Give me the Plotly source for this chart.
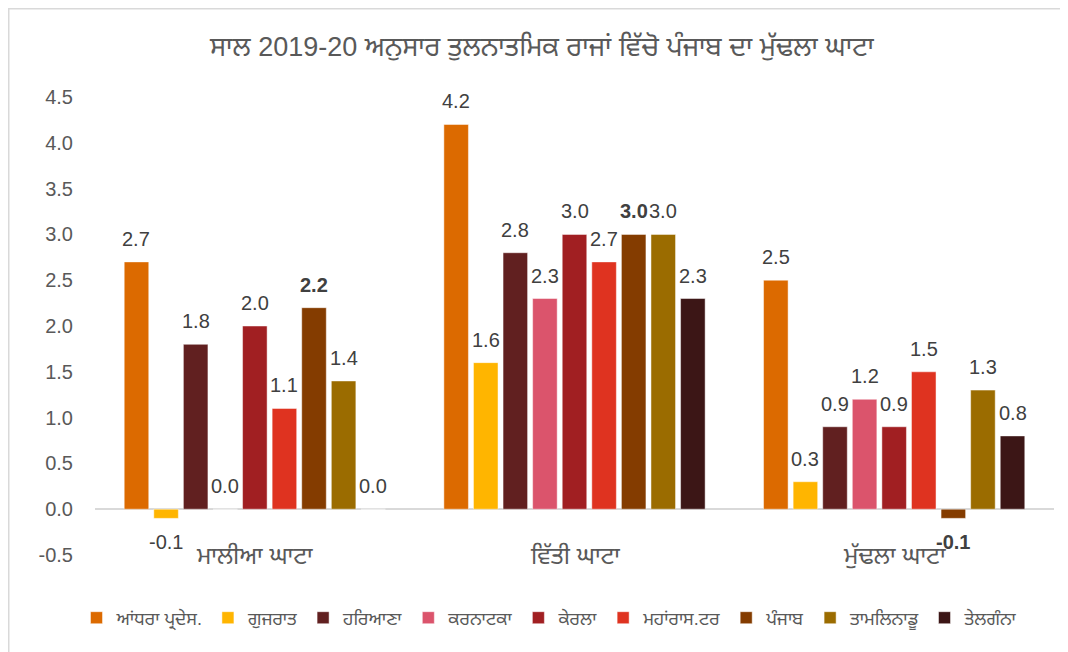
import plotly.graph_objects as go

categories = ["ਮਾਲੀਆ ਘਾਟਾ", "ਵਿੱਤੀ ਘਾਟਾ", "ਮੁੱਢਲਾ ਘਾਟਾ"]
states = ["ਆਂਧਰਾ ਪ੍ਰਦੇਸ.", "ਗੁਜਰਾਤ", "ਹਰਿਆਣਾ", "ਕਰਨਾਟਕਾ", "ਕੇਰਲਾ",
          "ਮਹਾਂਰਾਸ.ਟਰ", "ਪੰਜਾਬ", "ਤਾਮਲਿਨਾਡੂ", "ਤੇਲਗੰਨਾ"]
andhra = [2.7, 4.2, 2.5]
gujarat = [-0.1, 1.6, 0.3]
haryana = [1.8, 2.8, 0.9]
karnataka = [0.0, 2.3, 1.2]
kerala = [2.0, 3.0, 0.9]
maharashtra = [1.1, 2.7, 1.5]
punjab = [2.2, 3.0, -0.1]
tamilnadu = [1.4, 3.0, 1.3]
telangana = [0.0, 2.3, 0.8]
series = [andhra, gujarat, haryana, karnataka, kerala, maharashtra, punjab, tamilnadu, telangana]
colors = ["#DC6A00", "#FFB500", "#612020", "#DB546C", "#A11F22",
          "#DF3320", "#843C00", "#9B6C00", "#3C1616"]
title = "ਸਾਲ 2019-20 ਅਨੁਸਾਰ ਤੁਲਨਾਤਮਿਕ ਰਾਜਾਂ ਵਿੱਚੋ ਪੰਜਾਬ ਦਾ ਮੁੱਢਲਾ ਘਾਟਾ"
yticks = [-0.5, 0.0, 0.5, 1.0, 1.5, 2.0, 2.5, 3.0, 3.5, 4.0, 4.5]

FONT = "Liberation Sans, Arial, Noto Sans Gurmukhi, sans-serif"

W, H = 1060, 644
ml, mr, mt, mb = 87, 14, 89, 97
pw, ph = W - ml - mr, H - mt - mb
BARGAP = 0.167
BARGROUPGAP = 0.17


def px_x(p):
    return (p - ml) / pw


def px_y(p):
    return (H - mb - p) / ph


fig = go.Figure()
for name, vals, col in zip(states, series, colors):
    fig.add_trace(go.Bar(
        x=categories, y=vals, name=name,
        marker=dict(color=col, line=dict(color="rgba(255,255,255,0.6)", width=0.8)),
        hoverinfo="x+y+name",
    ))

# data labels placed at each bar's value on the axes
n = len(series)
slot = (1 - BARGAP) / n
for i, (name, vals) in enumerate(zip(states, series)):
    bold = name == "ਪੰਜਾਬ"
    off = -(1 - BARGAP) / 2 + (i + 0.5) * slot
    for j, v in enumerate(vals):
        txt = f"{v:.1f}"
        if bold:
            txt = f"<b>{txt}</b>"
        fig.add_annotation(
            x=j + off, y=v, xref="x", yref="y", text=txt, showarrow=False,
            yanchor="bottom" if v >= 0 else "top",
            yshift=10 if v >= 0 else -11,
            font=dict(family=FONT, size=20, color="#404040"),
        )

fig.update_layout(
    width=W, height=H,
    margin=dict(l=ml, r=mr, t=mt, b=mb, autoexpand=False),
    paper_bgcolor="white", plot_bgcolor="white",
    barmode="group", bargap=BARGAP, bargroupgap=BARGROUPGAP,
    title=dict(text=title, x=px_x(534), xref="paper", xanchor="center",
               y=(H - 39) / H, yanchor="middle",
               font=dict(family=FONT, size=27, color="#595959")),
    xaxis=dict(showticklabels=False, showgrid=False, zeroline=False, showline=False,
               range=[-0.5, 2.5]),
    yaxis=dict(range=[-0.5, 4.5], tickvals=yticks, ticktext=[f"{v:.1f}" for v in yticks],
               showgrid=False, zeroline=True, zerolinecolor="#D9D9D9", zerolinewidth=2,
               showline=False, ticks="", ticklabelstandoff=21,
               tickfont=dict(family=FONT, size=20, color="#595959")),
    legend=dict(orientation="h", x=px_x(542), xanchor="center", y=px_y(610), yanchor="middle",
                font=dict(family=FONT, size=18, color="#595959"), itemwidth=30,
                traceorder="normal"),
    showlegend=True,
)

for c in categories:
    fig.add_annotation(x=c, y=-0.5, xref="x", yref="y", text=c, showarrow=False,
                       yanchor="middle", font=dict(family=FONT, size=24, color="#595959"))

fig.add_shape(type="rect", xref="paper", yref="paper",
              x0=px_x(0), x1=px_x(1075), y0=px_y(665), y1=px_y(0),
              line=dict(color="#D9D9D9", width=3), fillcolor="rgba(0,0,0,0)", layer="below")

fig.write_html("out.html")
